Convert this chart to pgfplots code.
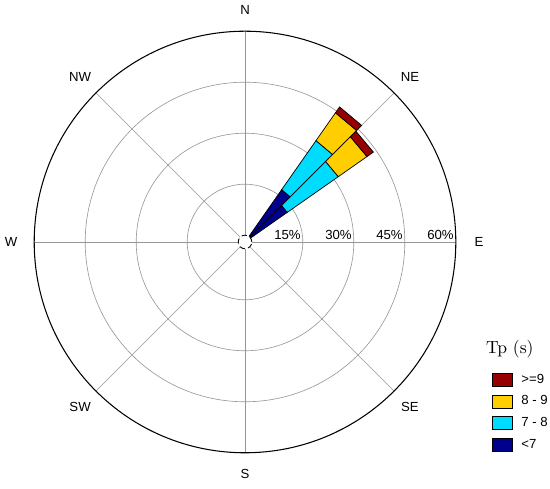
\documentclass[border=0pt]{standalone}
\usepackage{fontspec}
\setmainfont{Liberation Sans}
\usepackage{pgfplots}
\pgfplotsset{compat=1.18}

\definecolor{tpred}{RGB}{150,0,0}
\definecolor{tpyel}{RGB}{255,206,0}
\definecolor{tpcyan}{RGB}{0,220,255}
\definecolor{tpnavy}{RGB}{0,0,140}
\definecolor{gridc}{RGB}{150,150,150}

% radius of the empty hole in the middle, in percent units
\newcommand{\hole}{2}

\begin{document}
\begin{tikzpicture}[font=\fontsize{7.5}{9}\selectfont]
\begin{axis}[
  width=11cm, height=9.78cm, scale only axis,
  xmin=-72.06, xmax=89.7, ymin=-72.65, ymax=71.18,
  hide axis, clip=false,
  wedge/.style={data cs=polar, draw=black, line width=0.4pt},
  reverse legend,
  legend cell align=left,
  legend style={at={(axis cs:72.6,-38.4)}, anchor=north west,
    draw=none, fill=none, inner sep=0pt, row sep=0.16cm, column sep=0.1cm,
    nodes={inner ysep=0pt},
    font=\fontsize{7.5}{9}\selectfont},
  legend image code/.code={\draw[#1, line width=0.4pt] (0cm,-0.13cm) rectangle (0.4cm,0.13cm);},
]
\coordinate (bl) at (rel axis cs:0,0);
\coordinate (tr) at (rel axis cs:1,1);

% grid
\pgfplotsinvokeforeach{17,32,47}{
  \draw[gridc, line width=0.35pt] (axis cs:0,0) circle[radius=#1];
}
\pgfplotsinvokeforeach{0,45,90,135,180,225,270,315}{
  \draw[gridc, line width=0.35pt] (axis cs:{\hole*cos(#1)},{\hole*sin(#1)}) -- (axis cs:{62*cos(#1)},{62*sin(#1)});
}
\draw[black, line width=0.6pt] (axis cs:0,0) circle[radius=62];

% direction 45-55 deg
\addplot[wedge, fill=tpnavy] table[y expr=\thisrow{r}+\hole] {
a r
45 0
45 16.8
55 16.8
55 0
} -- cycle;
\addlegendentry{<7}
\addplot[wedge, fill=tpcyan] table[y expr=\thisrow{r}+\hole] {
a r
45 16.8
45 34.4
55 34.4
55 16.8
} -- cycle;
\addlegendentry{7 - 8}
\addplot[wedge, fill=tpyel] table[y expr=\thisrow{r}+\hole] {
a r
45 34.4
45 44.4
55 44.4
55 34.4
} -- cycle;
\addlegendentry{8 - 9}
\addplot[wedge, fill=tpred] table[y expr=\thisrow{r}+\hole] {
a r
45 44.4
45 46.5
55 46.5
55 44.4
} -- cycle;
\addlegendentry{>=9}

% direction 35-45 deg
\addplot[wedge, fill=tpnavy, forget plot] table[y expr=\thisrow{r}+\hole] {
a r
35 0
35 13.2
45 13.2
45 0
} -- cycle;
\addplot[wedge, fill=tpcyan, forget plot] table[y expr=\thisrow{r}+\hole] {
a r
35 13.2
35 31.5
45 31.5
45 13.2
} -- cycle;
\addplot[wedge, fill=tpyel, forget plot] table[y expr=\thisrow{r}+\hole] {
a r
35 31.5
35 41.8
45 41.8
45 31.5
} -- cycle;
\addplot[wedge, fill=tpred, forget plot] table[y expr=\thisrow{r}+\hole] {
a r
35 41.8
35 44.1
45 44.1
45 41.8
} -- cycle;

% hole
\draw[black, densely dashed, line width=0.5pt, fill=white] (axis cs:0,0) circle[radius=\hole];

% labels
\node at (axis cs:0,68.2) {N};
\node at (axis cs:0,-68.2) {S};
\node at (axis cs:68.8,0) {E};
\node at (axis cs:-68.8,0) {W};
\node at (axis cs:48.5,48.4) {NE};
\node at (axis cs:-48.5,48.4) {NW};
\node at (axis cs:48.5,-48.6) {SE};
\node at (axis cs:-48.5,-48.6) {SW};
\node[anchor=south east, inner sep=1pt] at (axis cs:17,0) {15\%};
\node[anchor=south east, inner sep=1pt] at (axis cs:32,0) {30\%};
\node[anchor=south east, inner sep=1pt] at (axis cs:47,0) {45\%};
\node[anchor=south east, inner sep=1pt] at (axis cs:62,0) {60\%};
\node at (axis cs:77.9,-31.5) {\fontfamily{lmr}\fontsize{10}{12}\selectfont Tp (s)};
\end{axis}
\pgfresetboundingbox
\path (bl) rectangle (tr);
\end{tikzpicture}
\end{document}
